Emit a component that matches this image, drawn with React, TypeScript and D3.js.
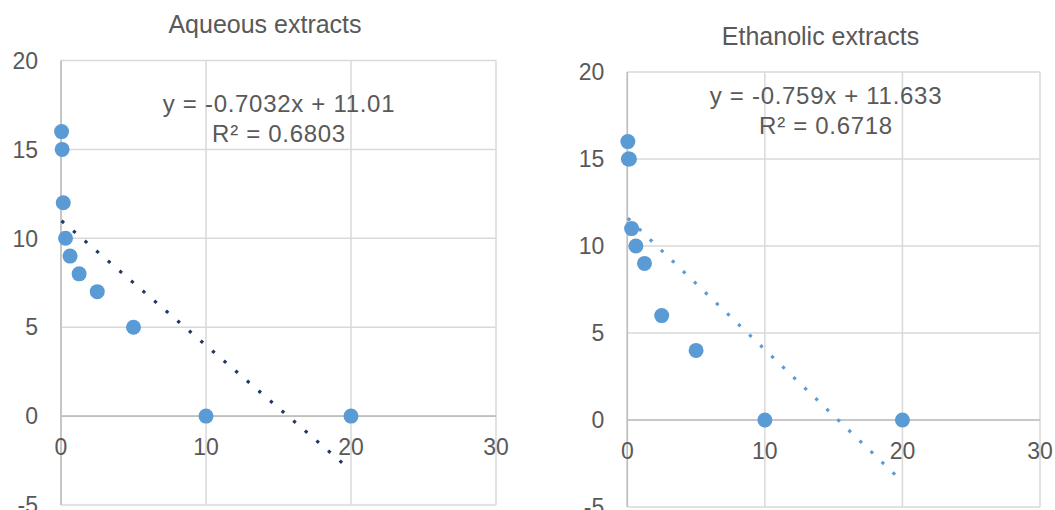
import * as d3 from "d3";

// concentrations (shared x values) and responses
const aqueousX = [0.039, 0.078, 0.156, 0.3125, 0.625, 1.25, 2.5, 5, 10, 20];
const aqueousY = [16, 15, 12, 10, 9, 8, 7, 5, 0, 0];
const ethanolicX = [0.039, 0.078, 0.156, 0.3125, 0.625, 1.25, 2.5, 5, 10, 20];
const ethanolicY = [16, 15, 15, 11, 10, 9, 6, 4, 0, 0];

const xTicks = [0, 10, 20, 30];
const yTicks = [-5, 0, 5, 10, 15, 20];

const titles = ["Aqueous extracts", "Ethanolic extracts"];
const equations = ["y = -0.7032x + 11.01", "y = -0.759x + 11.633"];
const rSquared = ["R² = 0.6803", "R² = 0.6718"];

const W = 1055;
const H = 510;
const FONT = "'Liberation Sans', Arial, sans-serif";
const TEXT = "#595959";
const MARKER = "#5B9BD5";

// least squares fit, the same one Excel shows on the chart
function fit(xs: number[], ys: number[]) {
  const mx = d3.mean(xs) as number;
  const my = d3.mean(ys) as number;
  let sxy = 0;
  let sxx = 0;
  xs.forEach((x, i) => {
    sxy += (x - mx) * (ys[i] - my);
    sxx += (x - mx) * (x - mx);
  });
  const b = sxy / sxx;
  return { b, a: my - b * mx };
}

type PanelProps = {
  xs: number[];
  ys: number[];
  title: string;
  eq: string;
  r2: string;
  box: { left: number; right: number; top: number; bottom: number };
  titlePos: [number, number];
  eqPos: [number, number];
  trendColor: string;
};

const Panel = ({ xs, ys, title, eq, r2, box, titlePos, eqPos, trendColor }: PanelProps) => {
  const x = d3.scaleLinear().domain([0, 30]).range([box.left, box.right]);
  const y = d3.scaleLinear().domain([-5, 20]).range([box.bottom, box.top]);
  const { a, b } = fit(xs, ys);
  const x0 = d3.min(xs) as number;
  const x1 = d3.max(xs) as number;
  const trend = d3.line<number>()
    .x((d) => x(d))
    .y((d) => y(a + b * d))([x0, x1]);

  return (
    <g>
      <text x={titlePos[0]} y={titlePos[1]} textAnchor="middle" fontSize={25} fill={TEXT} fontFamily={FONT}>
        {title}
      </text>
      {/* grid */}
      {yTicks.map((t) => (
        <line key={"gy" + t} x1={box.left} x2={box.right} y1={y(t)} y2={y(t)} stroke="#D9D9D9" strokeWidth={1.5} />
      ))}
      {xTicks.map((t) => (
        <line key={"gx" + t} x1={x(t)} x2={x(t)} y1={box.top} y2={box.bottom} stroke="#D9D9D9" strokeWidth={1.5} />
      ))}
      {/* axes crossing at 0 */}
      <line x1={box.left} x2={box.right} y1={y(0)} y2={y(0)} stroke="#BFBFBF" strokeWidth={1.6} />
      <line x1={x(0)} x2={x(0)} y1={box.top} y2={box.bottom} stroke="#BFBFBF" strokeWidth={1.6} />
      {yTicks.map((t) => (
        <text key={"ly" + t} x={box.left - 23} y={y(t)} dy="0.36em" textAnchor="end" fontSize={23} fill={TEXT} fontFamily={FONT}>
          {t}
        </text>
      ))}
      {xTicks.map((t) => (
        <text key={"lx" + t} x={x(t)} y={y(0) + 39} textAnchor="middle" fontSize={23} fill={TEXT} fontFamily={FONT}>
          {t}
        </text>
      ))}
      {xs.map((d, i) => (
        <circle key={i} cx={x(d)} cy={y(ys[i])} r={7.5} fill={MARKER} />
      ))}
      <path d={trend ?? ""} fill="none" stroke={trendColor} strokeWidth={3.2} strokeDasharray="3.2 12.1" />
      <text x={eqPos[0]} y={eqPos[1]} textAnchor="middle" fontSize={24} letterSpacing={0.7} fill={TEXT} fontFamily={FONT}>
        {eq}
      </text>
      <text x={eqPos[0]} y={eqPos[1] + 30} textAnchor="middle" fontSize={24} letterSpacing={0.7} fill={TEXT} fontFamily={FONT}>
        {r2}
      </text>
    </g>
  );
};

export default function App() {
  return (
    <svg width={W} height={H} style={{ position: "absolute", left: 0, top: 0, background: "#fff" }}>
      <rect width={W} height={H} fill="#fff" />
      <Panel
        xs={aqueousX}
        ys={aqueousY}
        title={titles[0]}
        eq={equations[0]}
        r2={rSquared[0]}
        box={{ left: 61, right: 496, top: 60.5, bottom: 505 }}
        titlePos={[265, 33]}
        eqPos={[279, 111.5]}
        trendColor="#203864"
      />
      <Panel
        xs={ethanolicX}
        ys={ethanolicY}
        title={titles[1]}
        eq={equations[1]}
        r2={rSquared[1]}
        box={{ left: 627.3, right: 1040, top: 72, bottom: 507 }}
        titlePos={[820.5, 45]}
        eqPos={[826, 104]}
        trendColor={MARKER}
      />
    </svg>
  );
}
